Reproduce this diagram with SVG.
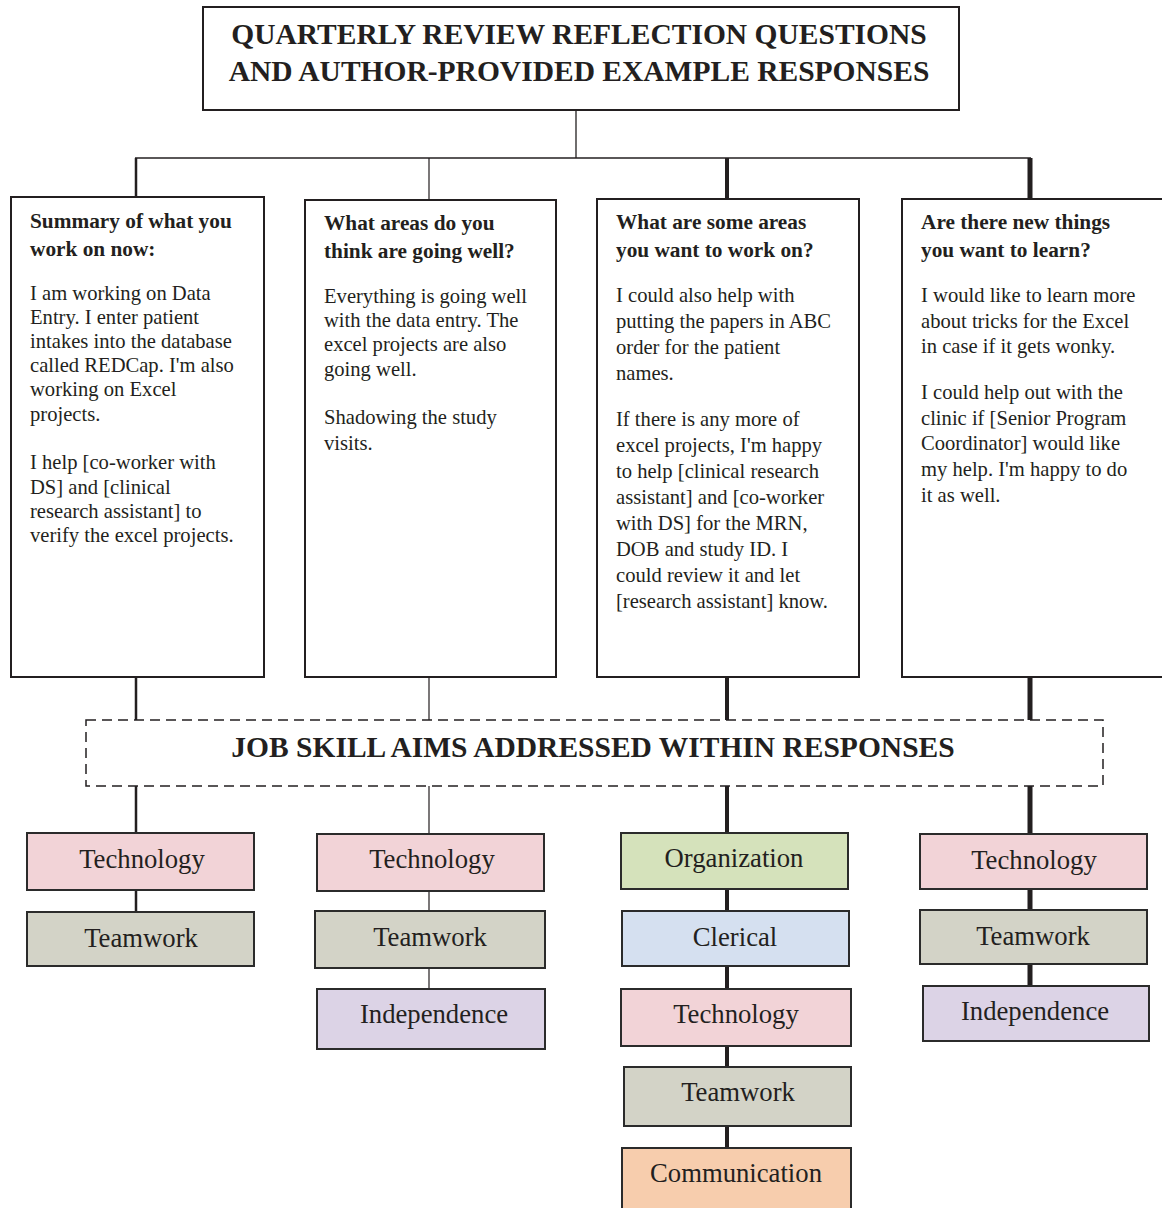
<svg xmlns="http://www.w3.org/2000/svg" width="1162" height="1208" viewBox="0 0 1162 1208">
<style>
.box{fill:#fff;stroke:#231f20;stroke-width:2}
.skill{stroke:#2b2b2b;stroke-width:2}
.title{font-family:"Liberation Serif","Times New Roman",serif;font-weight:bold;font-size:29.5px;fill:#231f20;text-anchor:middle}
.hdr{font-family:"Liberation Serif","Times New Roman",serif;font-weight:bold;font-size:21.3px;fill:#231f20}
.body{font-family:"Liberation Serif","Times New Roman",serif;font-size:20.6px;fill:#231f20}
.sk{font-family:"Liberation Serif","Times New Roman",serif;font-size:26.7px;fill:#231f20;text-anchor:middle}
.c{stroke:#231f20;fill:none}
.pink{fill:#f2d3d7}.gray{fill:#d3d3c7}.lav{fill:#dcd3e6}.green{fill:#d5e2bb}.blue{fill:#d5e0f0}.orange{fill:#f7cdad}
</style>
<rect width="1162" height="1208" fill="#fff"/>
<g id="connectors">
<path class="c" stroke-width="1.3" d="M576 110V158"/>
<path class="c" stroke-width="1.5" d="M135 158H1031"/>
<path class="c" stroke-width="2.5" d="M136 158V197M136 677V720M136 786V833M136 890V912"/>
<path class="c" stroke-width="1.2" d="M429 158V200M429 677V720M429 786V834M429 891V911M429 968V989"/>
<path class="c" stroke-width="4" d="M727 158V199M727 677V720M727 786V833M727 889V911M727 966V989M727 1046V1067M727 1126V1148"/>
<path class="c" stroke-width="5" d="M1030 158V199M1030 677V720M1030 786V834M1030 889V910M1030 964V986"/>
</g>
<g id="title">
<rect class="box" x="203" y="7" width="756" height="103"/>
<text class="title" x="579" y="44">QUARTERLY REVIEW REFLECTION QUESTIONS</text>
<text class="title" x="579" y="81">AND AUTHOR-PROVIDED EXAMPLE RESPONSES</text>
</g>
<g id="q1">
<rect class="box" x="11" y="197" width="253" height="480"/>
<text class="hdr" x="30" y="228">Summary of what you</text>
<text class="hdr" x="30" y="256">work on now:</text>
<text class="body" x="30" y="300">I am working on Data</text>
<text class="body" x="30" y="324">Entry. I enter patient</text>
<text class="body" x="30" y="348">intakes into the database</text>
<text class="body" x="30" y="372">called REDCap. I'm also</text>
<text class="body" x="30" y="396">working on Excel</text>
<text class="body" x="30" y="421">projects.</text>
<text class="body" x="30" y="469">I help [co-worker with</text>
<text class="body" x="30" y="494">DS] and [clinical</text>
<text class="body" x="30" y="518">research assistant] to</text>
<text class="body" x="30" y="542">verify the excel projects.</text>
</g>
<g id="q2">
<rect class="box" x="305" y="200" width="251" height="477"/>
<text class="hdr" x="324" y="230">What areas do you</text>
<text class="hdr" x="324" y="258">think are going well?</text>
<text class="body" x="324" y="303">Everything is going well</text>
<text class="body" x="324" y="327">with the data entry. The</text>
<text class="body" x="324" y="351">excel projects are also</text>
<text class="body" x="324" y="376">going well.</text>
<text class="body" x="324" y="424">Shadowing the study</text>
<text class="body" x="324" y="450">visits.</text>
</g>
<g id="q3">
<rect class="box" x="597" y="199" width="262" height="478"/>
<text class="hdr" x="616" y="229">What are some areas</text>
<text class="hdr" x="616" y="257">you want to work on?</text>
<text class="body" x="616" y="302">I could also help with</text>
<text class="body" x="616" y="328">putting the papers in ABC</text>
<text class="body" x="616" y="354">order for the patient</text>
<text class="body" x="616" y="380">names.</text>
<text class="body" x="616" y="426">If there is any more of</text>
<text class="body" x="616" y="452">excel projects, I'm happy</text>
<text class="body" x="616" y="478">to help [clinical research</text>
<text class="body" x="616" y="504">assistant] and [co-worker</text>
<text class="body" x="616" y="530">with DS] for the MRN,</text>
<text class="body" x="616" y="556">DOB and study ID. I</text>
<text class="body" x="616" y="582">could review it and let</text>
<text class="body" x="616" y="608">[research assistant] know.</text>
</g>
<g id="q4">
<rect class="box" x="902" y="199" width="270" height="478"/>
<text class="hdr" x="921" y="229">Are there new things</text>
<text class="hdr" x="921" y="257">you want to learn?</text>
<text class="body" x="921" y="302">I would like to learn more</text>
<text class="body" x="921" y="328">about tricks for the Excel</text>
<text class="body" x="921" y="353">in case if it gets wonky.</text>
<text class="body" x="921" y="399">I could help out with the</text>
<text class="body" x="921" y="425">clinic if [Senior Program</text>
<text class="body" x="921" y="450">Coordinator] would like</text>
<text class="body" x="921" y="476">my help. I'm happy to do</text>
<text class="body" x="921" y="502">it as well.</text>
</g>
<g id="aims">
<rect x="86" y="720" width="1017" height="66" fill="#fff" stroke="#231f20" stroke-width="1.5" stroke-dasharray="10 6"/>
<text class="title" x="593" y="757" font-size="28.5">JOB SKILL AIMS ADDRESSED WITHIN RESPONSES</text>
</g>
<g id="c1-technology"><rect class="skill pink" x="27" y="833" width="227" height="57"/><text class="sk" x="142" y="868">Technology</text></g>
<g id="c1-teamwork"><rect class="skill gray" x="27" y="912" width="227" height="54"/><text class="sk" x="141" y="947">Teamwork</text></g>
<g id="c2-technology"><rect class="skill pink" x="317" y="834" width="227" height="57"/><text class="sk" x="432" y="868">Technology</text></g>
<g id="c2-teamwork"><rect class="skill gray" x="315" y="911" width="230" height="57"/><text class="sk" x="430" y="946">Teamwork</text></g>
<g id="c2-independence"><rect class="skill lav" x="317" y="989" width="228" height="60"/><text class="sk" x="434" y="1023">Independence</text></g>
<g id="c3-organization"><rect class="skill green" x="621" y="833" width="227" height="56"/><text class="sk" x="734" y="867">Organization</text></g>
<g id="c3-clerical"><rect class="skill blue" x="622" y="911" width="227" height="55"/><text class="sk" x="735" y="946">Clerical</text></g>
<g id="c3-technology"><rect class="skill pink" x="621" y="989" width="230" height="57"/><text class="sk" x="736" y="1023">Technology</text></g>
<g id="c3-teamwork"><rect class="skill gray" x="624" y="1067" width="227" height="59"/><text class="sk" x="738" y="1101">Teamwork</text></g>
<g id="c3-communication"><rect class="skill orange" x="622" y="1148" width="229" height="70"/><text class="sk" x="736" y="1182">Communication</text></g>
<g id="c4-technology"><rect class="skill pink" x="920" y="834" width="227" height="55"/><text class="sk" x="1034" y="869">Technology</text></g>
<g id="c4-teamwork"><rect class="skill gray" x="920" y="910" width="227" height="54"/><text class="sk" x="1033" y="945">Teamwork</text></g>
<g id="c4-independence"><rect class="skill lav" x="923" y="986" width="226" height="55"/><text class="sk" x="1035" y="1020">Independence</text></g>
</svg>
